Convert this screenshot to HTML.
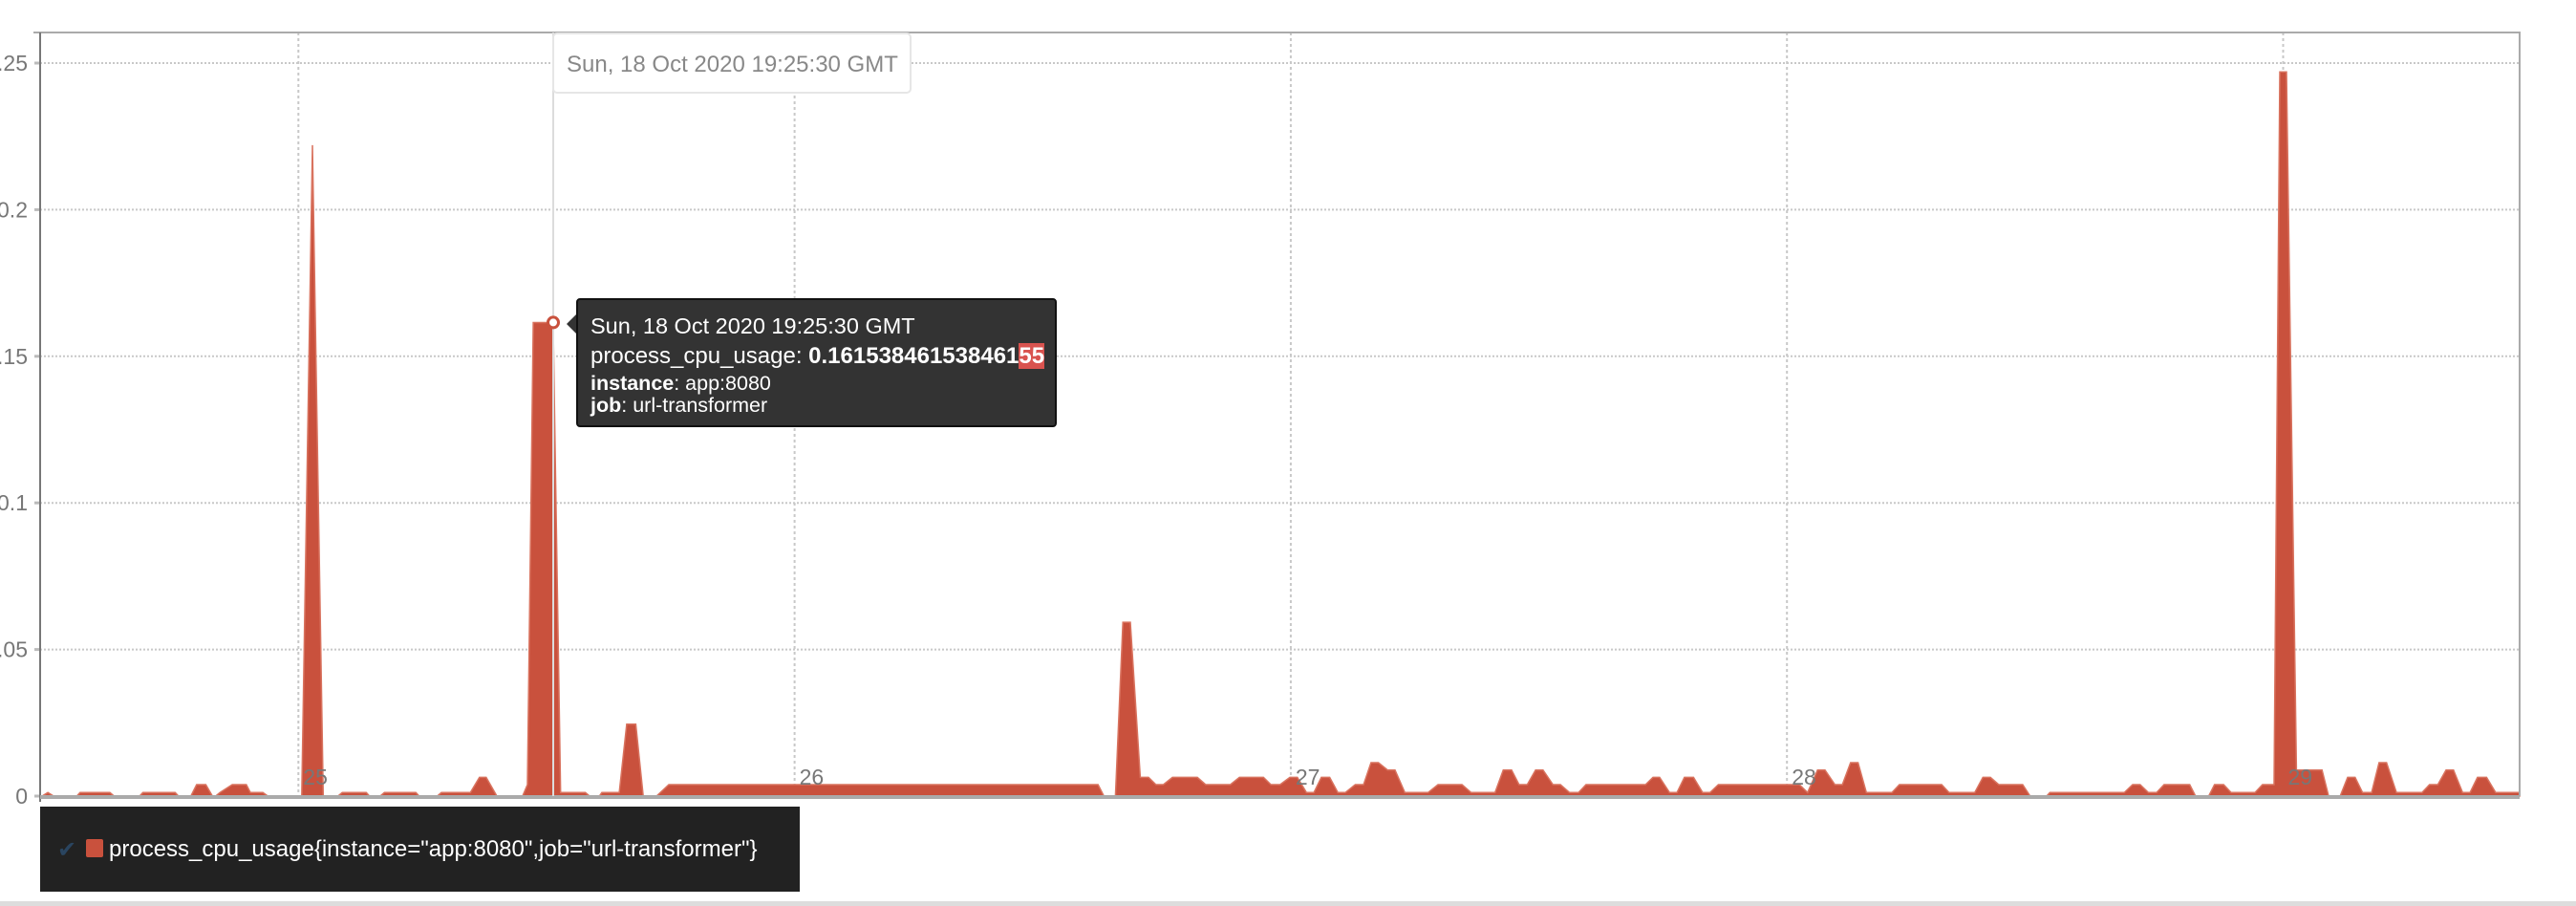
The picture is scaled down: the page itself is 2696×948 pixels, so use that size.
<!DOCTYPE html>
<html><head><meta charset="utf-8"><style>
html,body{margin:0;padding:0;background:#fff;width:2696px;height:948px;overflow:hidden;font-family:"Liberation Sans",sans-serif;}
#chart{position:absolute;left:0;top:0;}
</style></head><body>
<svg id="chart" width="2696" height="948" xmlns="http://www.w3.org/2000/svg">
<g id="grid"></g>
<g id="series"></g>
<g id="axes"></g>
<g id="hover"></g>
<rect x="0" y="943" width="2696" height="5" fill="#dddddd"/>
</svg>
<script>
// ---- data ----
const xTickMinutes = [25, 26, 27, 28, 29];
const xTickLabels = ["25", "26", "27", "28", "29"];
const yTickValues = [0, 0.05, 0.1, 0.15, 0.2, 0.25];
const yTickLabels = ["0", "0.05", "0.1", "0.15", "0.2", "0.25"];
// seconds since 19:24:29
const times = [0,0.7,1.4,4.2,4.6,8.2,8.7,11.8,12.2,16.1,16.5,18.0,18.7,19.8,20.6,21.0,21.5,23.0,24.7,25.2,26.7,27.3,31.4,32.7,34.0,35.8,36.3,39.2,39.6,40.9,41.4,45.2,45.6,47.8,48.3,51.8,52.9,53.7,55.0,58.1,58.7,59.4,61.8,62.7,65.7,66.2,67.4,67.7,69.8,70.7,71.8,72.7,74.3,75.8,127.7,128.4,129.8,130.7,131.6,132.8,133.8,134.7,135.6,136.7,139.7,140.7,143.7,144.8,147.7,148.6,149.7,150.9,151.8,152.9,153.8,154.7,155.7,156.7,157.6,158.8,159.8,160.7,161.6,162.7,163.6,164.8,167.6,168.8,171.7,172.8,175.7,176.7,177.7,178.6,179.6,180.6,181.5,182.7,183.6,184.7,185.8,186.7,193.9,194.8,195.6,196.8,197.7,198.6,199.7,200.8,201.7,202.7,212.5,213.5,214.7,215.6,216.8,217.7,218.7,219.6,220.6,223.7,224.6,229.7,230.6,233.7,234.7,235.6,236.6,239.5,240.4,242.4,242.8,251.8,252.8,253.7,254.7,255.7,256.6,259.7,260.4,262.0,262.7,263.8,264.7,267.6,268.5,269.9,270.6,271.4,272.6,275.7,276.5,277.9,278.8,279.7,280.6,281.7,282.6,283.5,284.7,287.8,288.7,289.7,290.7,291.6,292.7,293.6,294.5,295.6,296.7,299.6];
const values = [0,0.0012,0,0,0.0012,0.0012,0,0,0.0012,0.0012,0,0,0.0039,0.0039,0,0,0.0012,0.0039,0.0039,0.0012,0.0012,0,0,0.222,0,0,0.0012,0.0012,0,0,0.0012,0.0012,0,0,0.0012,0.0012,0.0064,0.0064,0,0,0.0039,0.1615,0.1615,0.0012,0.0012,0,0,0.0012,0.0012,0.0245,0.0245,0,0,0.0039,0.0039,0,0,0.0593,0.0593,0.0064,0.0064,0.0039,0.0039,0.0064,0.0064,0.0039,0.0039,0.0064,0.0064,0.0039,0.0039,0.0064,0.0064,0.0012,0.0012,0.0064,0.0064,0.0012,0.0012,0.0039,0.0039,0.0114,0.0114,0.0089,0.0089,0.0012,0.0012,0.0039,0.0039,0.0012,0.0012,0.0089,0.0089,0.0039,0.0039,0.0089,0.0089,0.0039,0.0039,0.0012,0.0012,0.0039,0.0039,0.0064,0.0064,0.0012,0.0012,0.0064,0.0064,0.0012,0.0012,0.0039,0.0039,0.0012,0.0089,0.0089,0.0039,0.0039,0.0114,0.0114,0.0012,0.0012,0.0039,0.0039,0.0012,0.0012,0.0064,0.0064,0.0039,0.0039,0,0,0.0012,0.0012,0.0039,0.0039,0.0012,0.0012,0.0039,0.0039,0,0,0.0039,0.0039,0.0012,0.0012,0.0039,0.0039,0.247,0.247,0.0089,0.0089,0,0,0.0064,0.0064,0.0012,0.0012,0.0114,0.0114,0.0012,0.0012,0.0039,0.0039,0.0089,0.0089,0.0012,0.0012,0.0064,0.0064,0.0012,0.0012];
const hoverTime = 61.8;
const hoverValue = 0.16153846153846155;

// ---- axes ----
const L = 42, R = 2637, T = 34, B = 833;
const xScale = s => 44 + s * 8.655;
const minuteToX = m => xScale((m - 24) * 60 - 29);
const yScale = v => B - v * 3068;
const NS = "http://www.w3.org/2000/svg";
function mk(tag, attrs, parent, text) {
  const e = document.createElementNS(NS, tag);
  for (const k in attrs) e.setAttribute(k, attrs[k]);
  if (text !== undefined) e.textContent = text;
  parent.appendChild(e);
  return e;
}
const grid = document.getElementById('grid');
const axes = document.getElementById('axes');
const series = document.getElementById('series');
const hover = document.getElementById('hover');

yTickValues.forEach((v, i) => {
  const y = yScale(v);
  if (v > 0) {
    const g = mk('line', {x1: L, x2: R, y1: y, y2: y, stroke: '#c8c8c8', 'stroke-width': 2, 'stroke-dasharray': '2,2'}, grid);
    
    
  }
  const t = mk('line', {x1: L - 6, x2: L, y1: y, y2: y, stroke: '#bbb', 'stroke-width': 3}, axes);
  
  
  const lb = mk('text', {x: 29, y: y + 8, 'text-anchor': 'end', 'font-size': 23, fill: '#777'}, axes, yTickLabels[i]);
  
  
});
xTickMinutes.forEach((m, i) => {
  const x = minuteToX(m);
  const g = mk('line', {x1: x, x2: x, y1: T, y2: B, stroke: '#c8c8c8', 'stroke-width': 2, 'stroke-dasharray': '3,3'}, grid);
  
  
  const lb = mk('text', {x: x + 5, y: B - 12, 'font-size': 23, fill: '#777'}, axes, xTickLabels[i]);
  
  
});

// area
let d = 'M' + xScale(times[0]) + ',' + B;
times.forEach((t, i) => { d += ' L' + Math.min(R, xScale(t)).toFixed(1) + ',' + yScale(values[i]).toFixed(1); });
d += ' L' + Math.min(R, xScale(times[times.length - 1])).toFixed(1) + ',' + B + ' Z';
const area = mk('path', {d: d, fill: '#c9513d', stroke: '#d9735f', 'stroke-width': 1.5, 'stroke-linejoin': 'miter'}, series);



// frame
const fr = mk('path', {d: `M${L-7},${T} H${R} V${B}`, fill: 'none', stroke: '#aaa', 'stroke-width': 2}, axes);


const ya = mk('line', {x1: L, x2: L, y1: T, y2: B + 6, stroke: '#777', 'stroke-width': 2}, axes);


const xa = mk('line', {x1: L, x2: R, y1: B + 1, y2: B + 1, stroke: '#aaa', 'stroke-width': 4}, axes);



// hover
const hx = 579;
const hy = yScale(hoverValue);
const hl = mk('line', {x1: hx, x2: hx, y1: T, y2: B, stroke: '#dcdcdc', 'stroke-width': 2}, hover);


const tb = mk('rect', {x: hx, y: T + 1, width: 374, height: 62, rx: 4, fill: '#fff', stroke: '#e6e6e6', 'stroke-width': 2}, hover);


const tt = mk('text', {x: hx + 14, y: 75, 'font-size': 24, fill: '#888'}, hover, 'Sun, 18 Oct 2020 19:25:30 GMT');


const mkr = mk('circle', {cx: hx, cy: hy, r: 5.5, fill: '#fff', stroke: '#c9513d', 'stroke-width': 3}, hover);


</script>

<div style="position:absolute;left:603px;top:312px;width:503px;height:135px;background:#333;border:2px solid #111;border-radius:4px;box-sizing:border-box;color:#fff;padding:12px 0 0 13px;">
  <div style="position:absolute;left:-12px;top:15px;width:0;height:0;border-top:10px solid transparent;border-bottom:10px solid transparent;border-right:10px solid #333;"></div>
  <div style="font-size:23.5px;line-height:30px;">Sun, 18 Oct 2020 19:25:30 GMT</div>
  <div style="font-size:24px;line-height:34px;">process_cpu_usage: <b>0.161538461538461<span style="background:#d9534f;">55</span></b></div>
  <div style="font-size:21.5px;line-height:23px;"><b>instance</b>: app:8080</div>
  <div style="font-size:21.5px;line-height:23px;"><b>job</b>: url-transformer</div>
</div>

<div style="position:absolute;left:42px;top:844px;width:795px;height:89px;background:#222;">
  <span style="position:absolute;left:18px;top:31px;font-size:24px;color:#2a4560;">✔</span>
  <span style="position:absolute;left:48px;top:34px;width:18px;height:19px;background:#c9513d;border-radius:2px;"></span>
  <span style="position:absolute;left:72px;top:31px;font-size:24px;color:#fff;white-space:nowrap;">process_cpu_usage{instance="app:8080",job="url-transformer"}</span>
</div>
</body></html>
